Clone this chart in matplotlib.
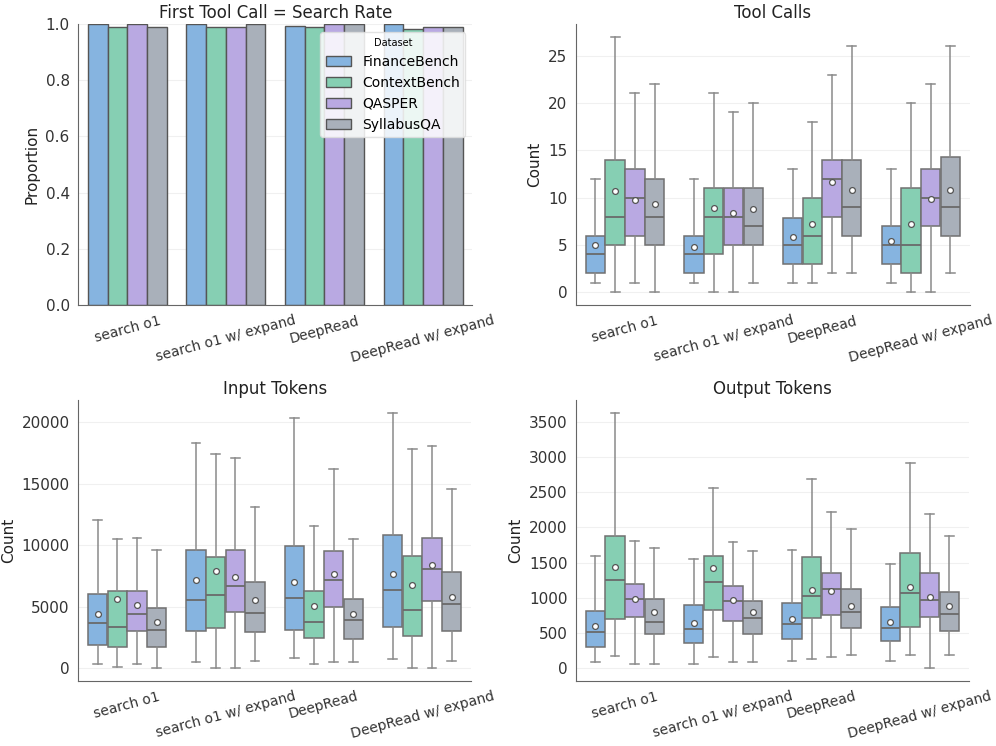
import matplotlib
matplotlib.use("Agg")
import matplotlib.pyplot as plt
import numpy as np

methods = ["search o1", "search o1 w/ expand", "DeepRead", "DeepRead w/ expand"]
datasets = ["FinanceBench", "ContextBench", "QASPER", "SyllabusQA"]
colors = ["#86B4E0", "#86CFB3", "#B9A9E2", "#A9B0BA"]

# first tool call = search rate, rows = method, cols = dataset
search_rate = [
    [1.0, 0.99, 1.0, 0.99],
    [1.0, 0.99, 0.99, 1.0],
    [0.993, 0.99, 1.0, 1.0],
    [1.0, 0.98, 0.99, 0.99],
]

# box stats per method, per dataset: (whislo, q1, med, q3, whishi, mean)
tool_calls = [
    [(1, 2, 4, 6, 12, 5.0), (0, 5, 8, 14, 27, 10.7), (1, 6, 10, 13, 21, 9.8), (0, 5, 8, 12, 22, 9.3)],
    [(1, 2, 4, 6, 12, 4.8), (0, 4, 8, 11, 21, 8.9), (0, 5, 8, 11, 19, 8.4), (1, 5, 7, 11, 20, 8.8)],
    [(1, 3, 5, 7.8, 13, 5.8), (1, 3, 6, 10, 18, 7.2), (2, 8, 12, 14, 23, 11.7), (2, 6, 9, 14, 26, 10.8)],
    [(1, 3, 5, 7, 13, 5.4), (0, 2, 5, 11, 20, 7.2), (0, 7, 10, 13, 22, 9.9), (2, 6, 9, 14.3, 26, 10.8)],
]
input_tokens = [
    [(320, 1860, 3650, 6030, 12080, 4430), (80, 1730, 3380, 6270, 10510, 5620),
     (380, 3000, 4380, 6270, 10600, 5110), (50, 1700, 3140, 4870, 9570, 3780)],
    [(510, 3000, 5510, 9620, 18300, 7160), (50, 3300, 5920, 9000, 17430, 7890),
     (50, 4540, 6680, 9620, 17080, 7400), (570, 2920, 4460, 7000, 13110, 5510)],
    [(810, 3080, 5730, 9970, 20320, 7000), (320, 2430, 3760, 6300, 11570, 5080),
     (510, 4950, 7130, 9540, 16190, 7670), (490, 2380, 3920, 5620, 10460, 4380)],
    [(730, 3380, 6320, 10840, 20760, 7670), (50, 2600, 4730, 9080, 17810, 6780),
     (0, 5430, 8080, 10620, 18080, 8380), (570, 3050, 5190, 7840, 14600, 5810)],
]
output_tokens = [
    [(90, 300, 510, 820, 1600, 600), (180, 700, 1255, 1880, 3627, 1440),
     (57, 730, 986, 1190, 1810, 986), (57, 480, 660, 986, 1700, 797)],
    [(61, 354, 561, 892, 1557, 637), (156, 825, 1226, 1600, 2561, 1429),
     (85, 675, 958, 1170, 1792, 972), (90, 481, 708, 962, 1665, 792)],
    [(104, 420, 623, 920, 1684, 693), (137, 712, 1033, 1575, 2679, 1113),
     (156, 750, 1132, 1349, 2217, 1099), (184, 566, 802, 1123, 1972, 882)],
    [(104, 382, 575, 873, 1476, 651), (184, 580, 1071, 1637, 2906, 1160),
     (0, 731, 976, 1354, 2189, 1009), (193, 524, 764, 1085, 1882, 882)],
]

plt.rcParams["font.family"] = ["DejaVu Sans"]
fig = plt.figure(figsize=(9.96, 7.46), dpi=100)

def style(ax, title, ylabel):
    ax.set_title(title, fontsize=12, color="#222222", pad=4)
    ax.set_ylabel(ylabel, fontsize=11, color="#222222")
    for s in ["top", "right"]:
        ax.spines[s].set_visible(False)
    for s in ["left", "bottom"]:
        ax.spines[s].set_color("#666666")
    ax.yaxis.grid(True, color="#f0f0f0", lw=0.8)
    ax.set_axisbelow(True)
    ax.tick_params(length=0, labelsize=11, colors="#333333", pad=6)
    ax.set_xticks(range(len(methods)))
    ax.set_xticklabels(methods, rotation=15, ha="center", fontsize=10)
    ax.set_xlim(-0.5, len(methods) - 0.5)

w = 0.2
offs = (np.arange(len(datasets)) - 1.5) * w

# bar plot
ax = fig.add_axes([0.0783, 0.591, 0.396, 0.377])
rates = np.array(search_rate)
for j, d in enumerate(datasets):
    ax.bar(np.arange(len(methods)) + offs[j], rates[:, j], width=w, color=colors[j],
           edgecolor="#555555", linewidth=1, label=d)
ax.set_ylim(0, 1.0)
style(ax, "First Tool Call = Search Rate", "Proportion")
leg = ax.legend(title="Dataset", loc="upper right", bbox_to_anchor=(1.0, 0.995), fontsize=10,
                title_fontsize=7, framealpha=0.85, edgecolor="#dddddd", fancybox=True,
                handlelength=1.8)

def boxes(ax, stats_tab, title):
    for j, d in enumerate(datasets):
        st = []
        for i in range(len(methods)):
            lo, q1, med, q3, hi, mn = stats_tab[i][j]
            st.append(dict(whislo=lo, q1=q1, med=med, q3=q3, whishi=hi, mean=mn, fliers=[]))
        ax.bxp(st, positions=np.arange(len(methods)) + offs[j], widths=w * 0.98,
               capwidths=w * 0.45, patch_artist=True, showmeans=True, showfliers=False,
               boxprops=dict(facecolor=colors[j], edgecolor="#707070", lw=1.1),
               whiskerprops=dict(color="#8a8a8a", lw=1.1),
               capprops=dict(color="#8a8a8a", lw=1.1),
               medianprops=dict(color="#6a6a6a", lw=1.3),
               meanprops=dict(marker="o", markerfacecolor="white", markeredgecolor="#555555",
                              markersize=4.2, markeredgewidth=0.9),
               manage_ticks=False)
    style(ax, title, "Count")

ax2 = fig.add_axes([0.578, 0.591, 0.396, 0.377])
boxes(ax2, tool_calls, "Tool Calls")
ax2.set_ylim(-1.35, 28.35)

ax3 = fig.add_axes([0.0783, 0.087, 0.395, 0.377])
boxes(ax3, input_tokens, "Input Tokens")
ax3.set_ylim(-1040, 21800)

ax4 = fig.add_axes([0.578, 0.087, 0.395, 0.377])
boxes(ax4, output_tokens, "Output Tokens")
ax4.set_ylim(-181, 3808)

fig.savefig("out.png", dpi=100)
